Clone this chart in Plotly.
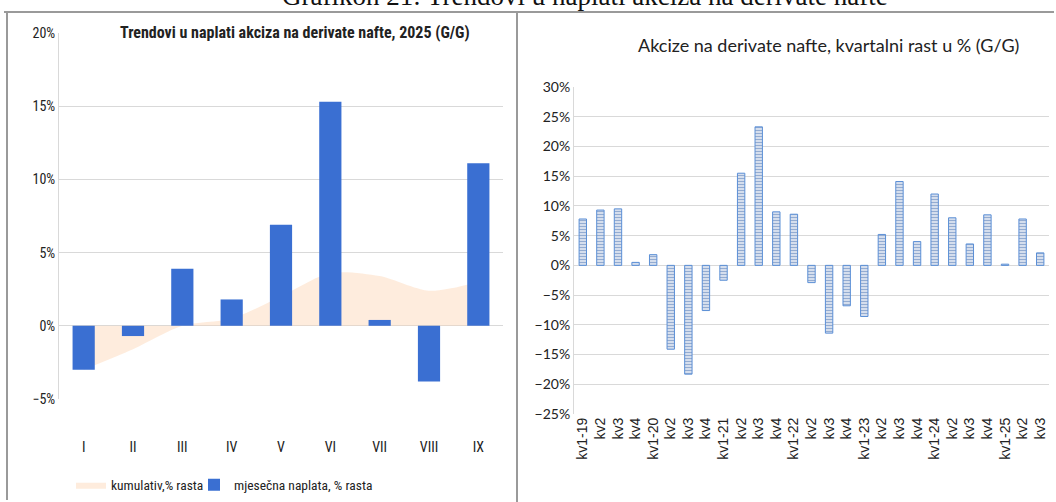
import plotly.graph_objects as go

# lijevi grafikon - mjesečno, 2025
months = ["I", "II", "III", "IV", "V", "VI", "VII", "VIII", "IX"]
monthly_growth = [-3.0, -0.7, 3.9, 1.8, 6.9, 15.3, 0.4, -3.8, 11.1]
cumulative_growth = [-3.0, -1.6, 0.0, 0.5, 2.0, 3.6, 3.4, 2.4, 3.0]

# desni grafikon - kvartalno
quarters = ["kv1-19", "kv2", "kv3", "kv4",
            "kv1-20", "kv2", "kv3", "kv4",
            "kv1-21", "kv2", "kv3", "kv4",
            "kv1-22", "kv2", "kv3", "kv4",
            "kv1-23", "kv2", "kv3", "kv4",
            "kv1-24", "kv2", "kv3", "kv4",
            "kv1-25", "kv2", "kv3"]
quarterly_growth = [7.8, 9.3, 9.5, 0.5,
                    1.8, -14.1, -18.3, -7.6,
                    -2.5, 15.5, 23.3, 9.0,
                    8.6, -2.9, -11.4, -6.8,
                    -8.6, 5.2, 14.1, 4.0,
                    12.0, 8.0, 3.6, 8.5,
                    0.2, 7.8, 2.1]

W, H = 1056, 502
NARROW = "Liberation Sans Narrow, Roboto Condensed, Arial Narrow, sans-serif"
CAL = "Lato, Open Sans, sans-serif"
GRID = "#d9d9d9"
BLUE = "#3a6fd2"

qx = list(range(len(quarters)))

fig = go.Figure()

# površina ide na osnovnu os, stubici na preklopljenu da budu ispred
fig.add_trace(go.Scatter(
    x=months, y=cumulative_growth, name="kumulativ,% rasta",
    mode="lines", line=dict(width=0, shape="spline", smoothing=0.8),
    fill="tozeroy", fillcolor="rgba(252,212,180,0.45)",
    xaxis="x", yaxis="y", legend="legend"))
fig.add_trace(go.Bar(
    x=months, y=monthly_growth, name="mjesečna naplata, % rasta",
    marker=dict(color=BLUE, line=dict(width=0)), width=0.45,
    xaxis="x", yaxis="y3", legend="legend2"))

fig.add_trace(go.Bar(
    x=qx, y=quarterly_growth, showlegend=False, width=0.42,
    marker=dict(color="white", line=dict(color="#5b8fd6", width=1),
                pattern=dict(shape="-", fgcolor="#2a5aa3", bgcolor="white",
                             size=3, solidity=0.6)),
    xaxis="x2", yaxis="y2"))


def px(x):
    return x / W


def py(y):
    return 1 - y / H


left_dom = [py(399), py(33)]
leg_font = dict(family=NARROW, size=13.5, color="#222")

fig.update_layout(
    width=W, height=H,
    margin=dict(l=0, r=0, t=0, b=0, autoexpand=False),
    paper_bgcolor="white", plot_bgcolor="white",
    showlegend=True,
    legend=dict(orientation="h", x=px(71), xanchor="left", y=py(485), yanchor="middle",
                font=leg_font, itemwidth=30, bgcolor="rgba(0,0,0,0)"),
    legend2=dict(orientation="h", x=px(194), xanchor="left", y=py(485), yanchor="middle",
                 font=leg_font, itemwidth=30, bgcolor="rgba(0,0,0,0)"),
    xaxis=dict(domain=[px(59), px(503)], anchor="y", showgrid=False, automargin=False,
               showline=False, ticks="", ticklabelstandoff=38,
               tickfont=dict(family=NARROW, size=14, color="#222")),
    yaxis=dict(domain=left_dom, anchor="x", range=[-5, 20], dtick=5, automargin=False,
               ticksuffix="%", showgrid=True, gridcolor=GRID, gridwidth=1,
               zeroline=False, showline=True, linecolor=GRID,
               tickfont=dict(family=NARROW, size=14, color="#222")),
    yaxis3=dict(domain=left_dom, anchor="x", overlaying="y", range=[-5, 20],
                visible=False, showgrid=False, zeroline=False, automargin=False),
    xaxis2=dict(domain=[px(574), px(1049)], anchor="y2", showgrid=False, automargin=False,
                range=[-0.5, len(quarters) - 0.5],
                tickmode="array", tickvals=qx, ticktext=quarters, tickangle=-90,
                showline=False, ticks="",
                tickfont=dict(family="Liberation Sans, Arial, sans-serif", size=14, color="#222")),
    yaxis2=dict(domain=[py(414), py(87)], anchor="x2", range=[-25, 30], dtick=5,
                automargin=False,
                ticksuffix="%", showgrid=True, gridcolor=GRID, gridwidth=1,
                zeroline=False, showline=True, linecolor=GRID,
                tickfont=dict(family=CAL, size=14, color="#222")),
)

# okviri
frame = dict(color="#9a9a9a", width=2)
fig.add_shape(type="line", xref="paper", yref="paper", x0=px(4), x1=px(1054), y0=py(12), y1=py(12), line=frame)
fig.add_shape(type="line", xref="paper", yref="paper", x0=px(7), x1=px(7), y0=py(12), y1=py(500), line=frame)
fig.add_shape(type="line", xref="paper", yref="paper", x0=px(517), x1=px(517), y0=py(12), y1=py(502), line=frame)

# naslov stranice, odsječen na vrhu kao u izvorniku
fig.add_annotation(text="Grafikon 21: Trendovi u naplati akciza na derivate nafte",
                   xref="paper", yref="paper", x=px(585), xanchor="center",
                   y=1, yanchor="middle", yshift=4,
                   showarrow=False, font=dict(family="Liberation Serif, serif", size=27, color="#111"))
fig.add_annotation(text="<b>Trendovi u naplati akciza na derivate nafte, 2025 (G/G)</b>",
                   xref="paper", yref="y", x=px(295), xanchor="center", y=20, yanchor="middle",
                   showarrow=False, bgcolor="white", borderpad=1,
                   font=dict(family=NARROW, size=16, color="#222"))
fig.add_annotation(text="Akcize na derivate nafte, kvartalni rast u % (G/G)",
                   xref="paper", yref="paper", x=px(828), xanchor="center", y=py(45), yanchor="middle",
                   showarrow=False, font=dict(family=CAL, size=18, color="#222"))

fig.write_html("out.html", config={"displayModeBar": False},
               post_script="document.body.style.margin='0';document.body.style.overflow='hidden';")
